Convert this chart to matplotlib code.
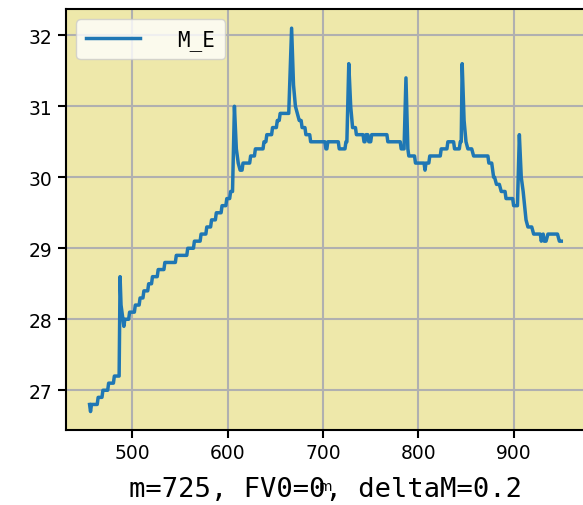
import matplotlib
matplotlib.use("Agg")
import matplotlib.pyplot as plt

# breakpoints of the M_E curve (m, value)
m_vals = [455, 456, 457, 463, 464, 468, 469, 474, 475, 480, 481, 486,
          487, 488, 490, 491, 492, 496, 497, 502, 503, 507, 508, 511, 512, 516,
          517, 520, 521, 526, 527, 533, 534, 545, 546, 557, 558, 564, 565, 571,
          572, 577, 578, 582, 583, 587, 588, 593, 594, 598, 599, 602, 603, 605,
          607, 609, 611, 613, 615, 616, 623, 624, 628, 629, 637, 638, 640, 641,
          646, 647, 651, 652, 654, 655, 664,
          667, 669, 671, 673, 675, 677, 678, 681, 682, 686, 687, 702, 703, 704,
          705, 716, 717, 723, 724, 725,
          727, 729, 731, 734, 735, 742, 743, 744, 745, 747, 748, 750, 751, 767,
          768, 781, 782, 785,
          787, 789, 790, 796, 797, 806, 807, 808, 811, 812, 823, 824, 830, 831,
          837, 838, 843, 844, 845,
          846, 848, 850, 852, 856, 858, 873, 874, 877, 879, 880, 882, 885, 887,
          891, 892, 899, 900, 904,
          906, 908, 910, 913, 915, 919, 921, 928, 929, 931, 932, 934, 936, 946,
          948, 950]
e_vals = [26.8, 26.7, 26.8, 26.8, 26.9, 26.9, 27.0, 27.0, 27.1, 27.1, 27.2, 27.2,
          28.6, 28.2, 28.0, 27.9, 28.0, 28.0, 28.1, 28.1, 28.2, 28.2, 28.3, 28.3, 28.4, 28.4,
          28.5, 28.5, 28.6, 28.6, 28.7, 28.7, 28.8, 28.8, 28.9, 28.9, 29.0, 29.0, 29.1, 29.1,
          29.2, 29.2, 29.3, 29.3, 29.4, 29.4, 29.5, 29.5, 29.6, 29.6, 29.7, 29.7, 29.8, 29.8,
          31.0, 30.4, 30.2, 30.1, 30.1, 30.2, 30.2, 30.3, 30.3, 30.4, 30.4, 30.5, 30.5, 30.6,
          30.6, 30.7, 30.7, 30.8, 30.8, 30.9, 30.9,
          32.1, 31.3, 31.0, 30.9, 30.8, 30.8, 30.7, 30.7, 30.6, 30.6, 30.5, 30.5, 30.4, 30.4,
          30.5, 30.5, 30.4, 30.4, 30.5, 30.5,
          31.6, 31.0, 30.7, 30.7, 30.6, 30.6, 30.5, 30.5, 30.6, 30.6, 30.5, 30.5, 30.6, 30.6,
          30.5, 30.5, 30.4, 30.4,
          31.4, 30.4, 30.3, 30.3, 30.2, 30.2, 30.1, 30.2, 30.2, 30.3, 30.3, 30.4, 30.4, 30.5,
          30.5, 30.4, 30.4, 30.5, 30.5,
          31.6, 30.8, 30.5, 30.4, 30.4, 30.3, 30.3, 30.2, 30.2, 30.0, 30.0, 29.9, 29.9, 29.8,
          29.8, 29.7, 29.7, 29.6, 29.6,
          30.6, 30.0, 29.8, 29.4, 29.3, 29.3, 29.2, 29.2, 29.1, 29.2, 29.1, 29.1, 29.2, 29.2,
          29.1, 29.1]

series_label = "M_E"
xlabel_text = "m"
caption_text = "m=725, FV0=0, deltaM=0.2"

fig = plt.figure(figsize=(5.83, 5.06), dpi=100)
ax = fig.add_axes([0.1132, 0.1482, 0.890, 0.832])
ax.set_facecolor("palegoldenrod")
ax.plot(m_vals, e_vals, color="#1f77b4", linewidth=2.5, label=series_label)
ax.set_xticks([500, 600, 700, 800, 900])
ax.set_yticks([27, 28, 29, 30, 31, 32])
ax.set_ylim(26.44, 32.37)
ax.grid(True, color="#b0b0b0", linewidth=1.5)
ax.set_axisbelow(True)
for s in ax.spines.values():
    s.set_linewidth(1.5)
ax.tick_params(labelsize=13.5, length=6, width=1.5)
ax.set_xlabel(xlabel_text, fontsize=10, labelpad=12)
ax.text(0.5, -0.14, caption_text, transform=ax.transAxes, ha="center", va="center",
        fontsize=19.5, family="DejaVu Sans Mono")
ax.legend(loc="upper left", prop={"family": "DejaVu Sans Mono", "size": 15},
          handlelength=2.6, handletextpad=1.8, borderpad=0.45)
fig.savefig("out.png", dpi=100)
